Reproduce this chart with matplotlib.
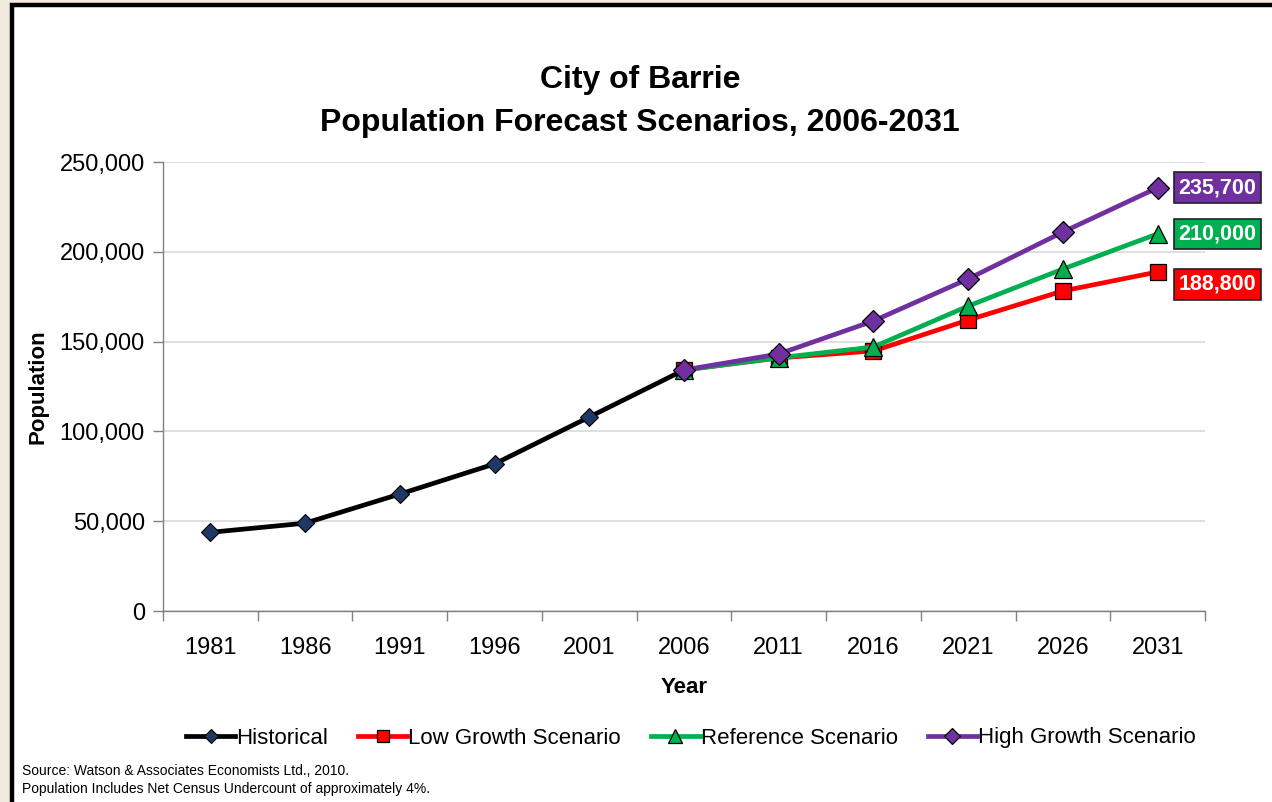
import matplotlib
matplotlib.use("Agg")
import matplotlib.pyplot as plt
from matplotlib.patches import Rectangle
from matplotlib.ticker import FuncFormatter, FixedLocator, NullFormatter

plt.rcParams['font.family'] = ['Liberation Sans', 'DejaVu Sans']

years = ['1981', '1986', '1991', '1996', '2001', '2006', '2011', '2016', '2021', '2026', '2031']
historical = [43800, 48900, 65100, 81900, 108000, 134200]
low_growth = [134200, 140900, 144800, 162000, 178200, 188800]
reference = [134200, 141000, 147000, 169800, 190400, 210000]
high_growth = [134200, 143100, 161500, 184900, 211000, 235700]

fig = plt.figure(figsize=(12.72, 8.02), dpi=100)
fig.patch.set_facecolor('#F2EADF')
# white panel with black frame
panel = Rectangle((12 / 1272, -0.05), 1.1, 1 - 5 / 802 + 0.05, transform=fig.transFigure,
                  facecolor='white', edgecolor='black', linewidth=3.2, zorder=-1)
fig.patches.append(panel)

ax = fig.add_axes([163 / 1272, 1 - 611 / 802, (1205 - 163) / 1272, (611 - 162) / 802])
ax.set_facecolor('white')

x_all = list(range(len(years)))
hist_x = x_all[:6]
fc_x = x_all[5:]

lw = 3.4
ax.plot(hist_x, historical, color='black', lw=lw, marker='D', markersize=9.5,
        markerfacecolor='#1F3864', markeredgecolor='black', markeredgewidth=0.8,
        label='Historical', zorder=3)
ax.plot(fc_x, low_growth, color='#FF0000', lw=lw, marker='s', markersize=12,
        markerfacecolor='#FF0000', markeredgecolor='black', markeredgewidth=0.9,
        label='Low Growth Scenario', zorder=4)
ax.plot(fc_x, reference, color='#00B050', lw=lw, marker='^', markersize=13,
        markerfacecolor='#00B050', markeredgecolor='black', markeredgewidth=0.9,
        label='Reference Scenario', zorder=5)
ax.plot(fc_x, high_growth, color='#7030A0', lw=lw, marker='D', markersize=11,
        markerfacecolor='#7030A0', markeredgecolor='black', markeredgewidth=0.9,
        label='High Growth Scenario', zorder=6)

ax.set_xlim(-0.5, len(years) - 0.5)
ax.set_ylim(0, 250000)
ax.set_yticks([0, 50000, 100000, 150000, 200000, 250000])
ax.yaxis.set_major_formatter(FuncFormatter(lambda v, p: f'{int(v):,}'))
ax.set_xticks(x_all)
ax.set_xticklabels(years)
ax.xaxis.set_minor_locator(FixedLocator([i - 0.5 for i in range(len(years) + 1)]))
ax.xaxis.set_minor_formatter(NullFormatter())
ax.tick_params(axis='x', which='major', length=0, pad=19, labelsize=17)
ax.tick_params(axis='x', which='minor', length=7, color='#808080', width=1)
ax.tick_params(axis='y', length=7, color='#808080', width=1, labelsize=17, pad=6)

ax.grid(axis='y', color='#D9D9D9', lw=1.2)
ax.set_axisbelow(True)
for s in ['top', 'right']:
    ax.spines[s].set_visible(False)
for s in ['left', 'bottom']:
    ax.spines[s].set_color('#808080')
    ax.spines[s].set_linewidth(1)

ax.set_xlabel('Year', fontsize=16, fontweight='bold', labelpad=13)
ax.set_ylabel('Population', fontsize=16, fontweight='bold', labelpad=8)

fig.text(640 / 1272, 1 - 80 / 802, 'City of Barrie', ha='center', va='center',
         fontsize=23, fontweight='bold')
fig.text(640 / 1272, 1 - 123 / 802, 'Population Forecast Scenarios, 2006-2031', ha='center',
         va='center', fontsize=23, fontweight='bold')

# end labels
end_labels = [(high_growth[-1], '#7030A0', 0), (reference[-1], '#00B050', 0),
              (low_growth[-1], '#FF0000', -9)]
for val, col, dy in end_labels:
    ax.annotate(f'{val:,}', xy=(x_all[-1], val), xytext=(15, dy), textcoords='offset points',
                ha='left', va='center', fontsize=15.5, fontweight='bold', color='white',
                annotation_clip=False,
                bbox=dict(boxstyle='square,pad=0.22', facecolor=col, edgecolor='#222222', lw=1.2))

leg = fig.legend(loc='center', bbox_to_anchor=(691 / 1272, 1 - 738 / 802), ncol=4, frameon=False,
                 fontsize=16, handlelength=2.2, handletextpad=0.05, columnspacing=1.35,
                 markerscale=0.75)

fig.text(22 / 1272, 1 - 771 / 802, 'Source: Watson & Associates Economists Ltd., 2010.',
         ha='left', va='center', fontsize=10)
fig.text(22 / 1272, 1 - 789 / 802, 'Population Includes Net Census Undercount of approximately 4%.',
         ha='left', va='center', fontsize=10)

fig.savefig('out.png', dpi=100, facecolor=fig.get_facecolor())
